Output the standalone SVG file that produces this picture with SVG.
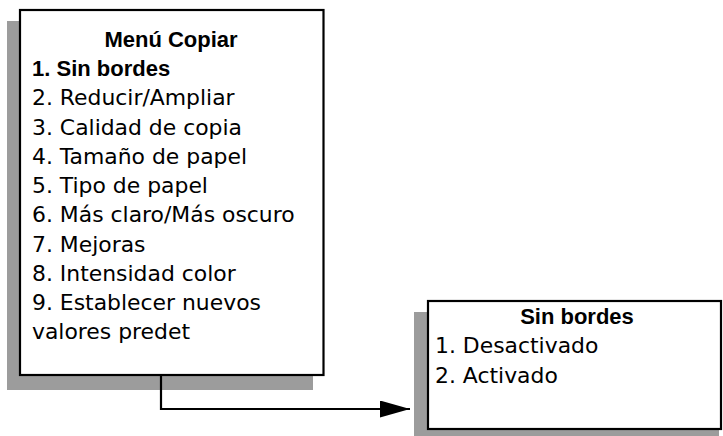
<svg xmlns="http://www.w3.org/2000/svg" width="723" height="436" viewBox="0 0 723 436">
  <style>
    .shadow { fill: #9c9c9c; }
    .box { fill: #ffffff; stroke: #000000; stroke-width: 2.2; }
    .t { font-family: "DejaVu Sans", "Liberation Sans", sans-serif; font-size: 21.9px; fill: #000000; }
    .b { font-family: "Liberation Sans", Arial, sans-serif; font-weight: bold; font-size: 22px; }
    .conn { fill: none; stroke: #000000; stroke-width: 2.2; }
  </style>
  <defs>
    <marker id="arrow" markerUnits="userSpaceOnUse" markerWidth="31" markerHeight="18" refX="30" refY="8.5" orient="auto">
      <path d="M0,0 L30,8.5 L0,17 Z" fill="#000000"/>
    </marker>
  </defs>
  <rect width="723" height="436" fill="#ffffff"/>
  <g id="menu-copiar">
    <rect class="shadow" x="7" y="21" width="306" height="369"/>
    <rect class="box" x="20" y="10" width="303.5" height="365"/>
    <text class="t b" x="171" y="47" text-anchor="middle">Menú Copiar</text>
    <text class="t b" x="32" y="76">1. Sin bordes</text>
    <text class="t" x="32" y="105">2. Reducir/Ampliar</text>
    <text class="t" x="32" y="134.5">3. Calidad de copia</text>
    <text class="t" x="32" y="164">4. Tamaño de papel</text>
    <text class="t" x="32" y="193">5. Tipo de papel</text>
    <text class="t" x="32" y="222">6. Más claro/Más oscuro</text>
    <text class="t" x="32" y="251.5">7. Mejoras</text>
    <text class="t" x="32" y="280.5">8. Intensidad color</text>
    <text class="t" x="32" y="310">9. Establecer nuevos</text>
    <text class="t" x="32" y="339">valores predet</text>
  </g>
  <g id="sin-bordes">
    <rect class="shadow" x="414" y="312" width="305" height="124"/>
    <rect class="box" x="428" y="301" width="293" height="128"/>
    <text class="t b" x="577" y="324" text-anchor="middle">Sin bordes</text>
    <text class="t" x="435" y="353">1. Desactivado</text>
    <text class="t" x="435" y="383">2. Activado</text>
  </g>
  <g id="connectors">
    <path class="conn" d="M161,375 L161,409 L410,409" marker-end="url(#arrow)"/>
  </g>
</svg>
